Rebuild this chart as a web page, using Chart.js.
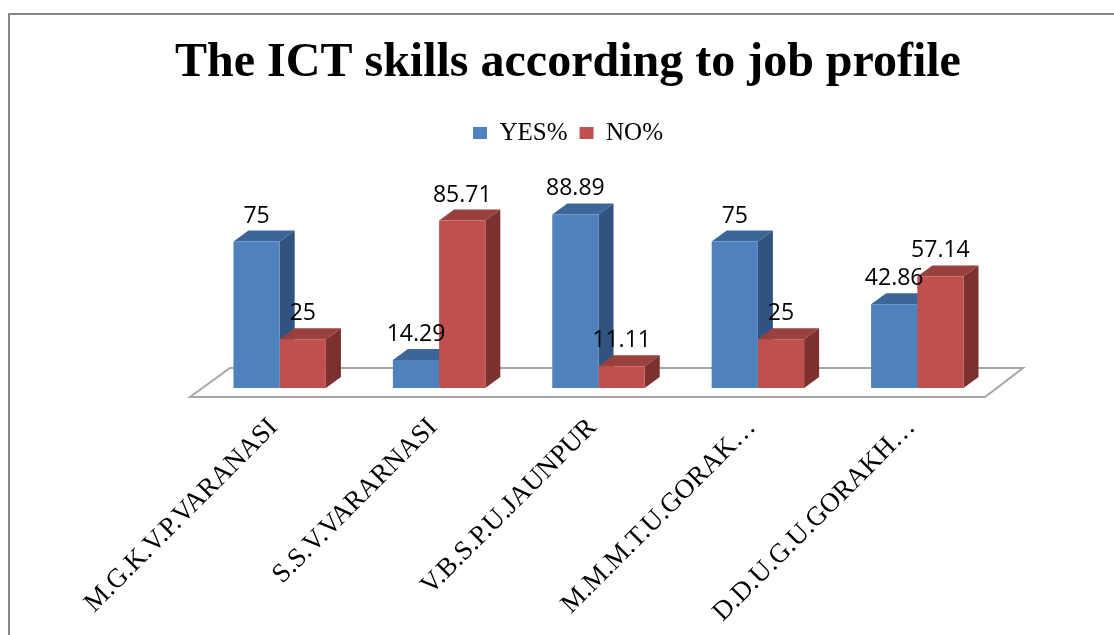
<!DOCTYPE html>
<html>
<head>
<meta charset="utf-8">
<script src="https://cdn.jsdelivr.net/npm/chart.js@4.4.0/dist/chart.umd.min.js"></script>
<style>
body { margin: 0; background: #fff; overflow: hidden; }
#frame { position: absolute; left: 8px; top: 13px; width: 1200px; height: 700px;
         border-top: 2px solid #878787; border-left: 2px solid #878787; }
#Chart { position: absolute; left: 0; top: 0; }
</style>
</head>
<body>
<div id="frame"><canvas id="Chart" width="1116" height="620"></canvas></div>
<script>
const universities = ['M.G.K.V.P.VARANASI', 'S.S.V.VARARNASI', 'V.B.S.P.U.JAUNPUR', 'M.M.M.T.U.GORAK…', 'D.D.U.G.U.GORAKH…'];
const yesPercent = [75, 14.29, 88.89, 75, 42.86];
const noPercent = [25, 85.71, 11.11, 25, 57.14];

const serif = '"Liberation Serif", "Times New Roman", serif';
const frontColors = ['#4f81bd', '#c0504d'];
const topColors = ['#3d6698', '#9a403d'];
const sideColors = ['#30537f', '#7d312f'];
const depthX = 15, depthY = -11;

// floor + top/side faces drawn before chart.js paints the front faces
const bar3d = {
    id: 'bar3d',
    beforeDatasetsDraw(chart) {
        const {ctx, chartArea: a} = chart;
        ctx.save();
        ctx.beginPath();
        ctx.moveTo(a.left - 10, a.bottom + 9);
        ctx.lineTo(a.left + 30, a.bottom - 20);
        ctx.lineTo(a.right + 26, a.bottom - 20);
        ctx.lineTo(a.right - 12, a.bottom + 9);
        ctx.closePath();
        ctx.fillStyle = '#fff';
        ctx.fill();
        ctx.strokeStyle = '#a6a6a6';
        ctx.lineWidth = 2;
        ctx.stroke();

        chart.data.labels.forEach((lab, j) => {
            chart.data.datasets.forEach((ds, i) => {
                const bar = chart.getDatasetMeta(i).data[j];
                const {x, y, base, width} = bar.getProps(['x', 'y', 'base', 'width'], true);
                const l = x - width / 2, r = x + width / 2;
                ctx.fillStyle = topColors[i];
                ctx.beginPath();
                ctx.moveTo(l, y);
                ctx.lineTo(l + depthX, y + depthY);
                ctx.lineTo(r + depthX, y + depthY);
                ctx.lineTo(r, y);
                ctx.closePath();
                ctx.fill();
                ctx.fillStyle = sideColors[i];
                ctx.beginPath();
                ctx.moveTo(r, y);
                ctx.lineTo(r + depthX, y + depthY);
                ctx.lineTo(r + depthX, base + depthY);
                ctx.lineTo(r, base);
                ctx.closePath();
                ctx.fill();
            });
        });
        ctx.restore();
    },
    afterDatasetsDraw(chart) {
        const ctx = chart.ctx;
        ctx.save();
        ctx.font = '23px "Open Sans", sans-serif';
        ctx.fillStyle = '#000';
        ctx.textAlign = 'center';
        ctx.textBaseline = 'alphabetic';
        chart.data.datasets.forEach((ds, i) => {
            chart.getDatasetMeta(i).data.forEach((bar, j) => {
                ctx.fillText(String(ds.data[j]), bar.x, bar.y - 19);
            });
        });
        ctx.restore();
    }
};

const config = {
    type: 'bar',
    data: {
        labels: universities,
        datasets: [{
            label: 'YES%',
            data: yesPercent,
            backgroundColor: frontColors[0],
            borderWidth: 0,
            categoryPercentage: 0.58,
            barPercentage: 1.0,
        }, {
            label: 'NO%',
            data: noPercent,
            backgroundColor: frontColors[1],
            borderWidth: 0,
            categoryPercentage: 0.58,
            barPercentage: 1.0,
        }],
    },
    options: {
        responsive: false,
        animation: false,
        devicePixelRatio: 1,
        layout: { padding: 0 },
        plugins: {
            title: {
                display: true,
                text: 'The ICT skills according to job profile',
                color: '#000',
                font: { family: serif, size: 48, weight: 'bold' },
                padding: { top: 20, bottom: 16 },
            },
            legend: {
                display: true,
                labels: {
                    color: '#000',
                    font: { family: serif, size: 25 },
                    boxWidth: 14,
                    boxHeight: 12,
                    padding: 12,
                },
            },
            tooltip: { enabled: false },
        },
        scales: {
            x: {
                grid: { display: false },
                border: { display: false },
                ticks: {
                    color: '#000',
                    font: { family: serif, size: 27 },
                    minRotation: 45,
                    maxRotation: 45,
                    autoSkip: false,
                    padding: 16,
                    labelOffset: -6,
                },
                afterFit: function (scale) { scale.height = 247; },
            },
            y: {
                min: 0,
                max: 119,
                grid: { display: false },
                border: { display: false },
                ticks: { display: false },
                afterFit: function (scale) { scale.width = 190; },
            },
            y2: {
                type: 'linear',
                position: 'right',
                grid: { display: false },
                border: { display: false },
                ticks: { display: false },
                afterFit: function (scale) { scale.width = 129; },
            },
        },
    },
    plugins: [bar3d],
};

const ctx = document.getElementById('Chart').getContext('2d');
const myChart = new Chart(ctx, config);
</script>
</body>
</html>
